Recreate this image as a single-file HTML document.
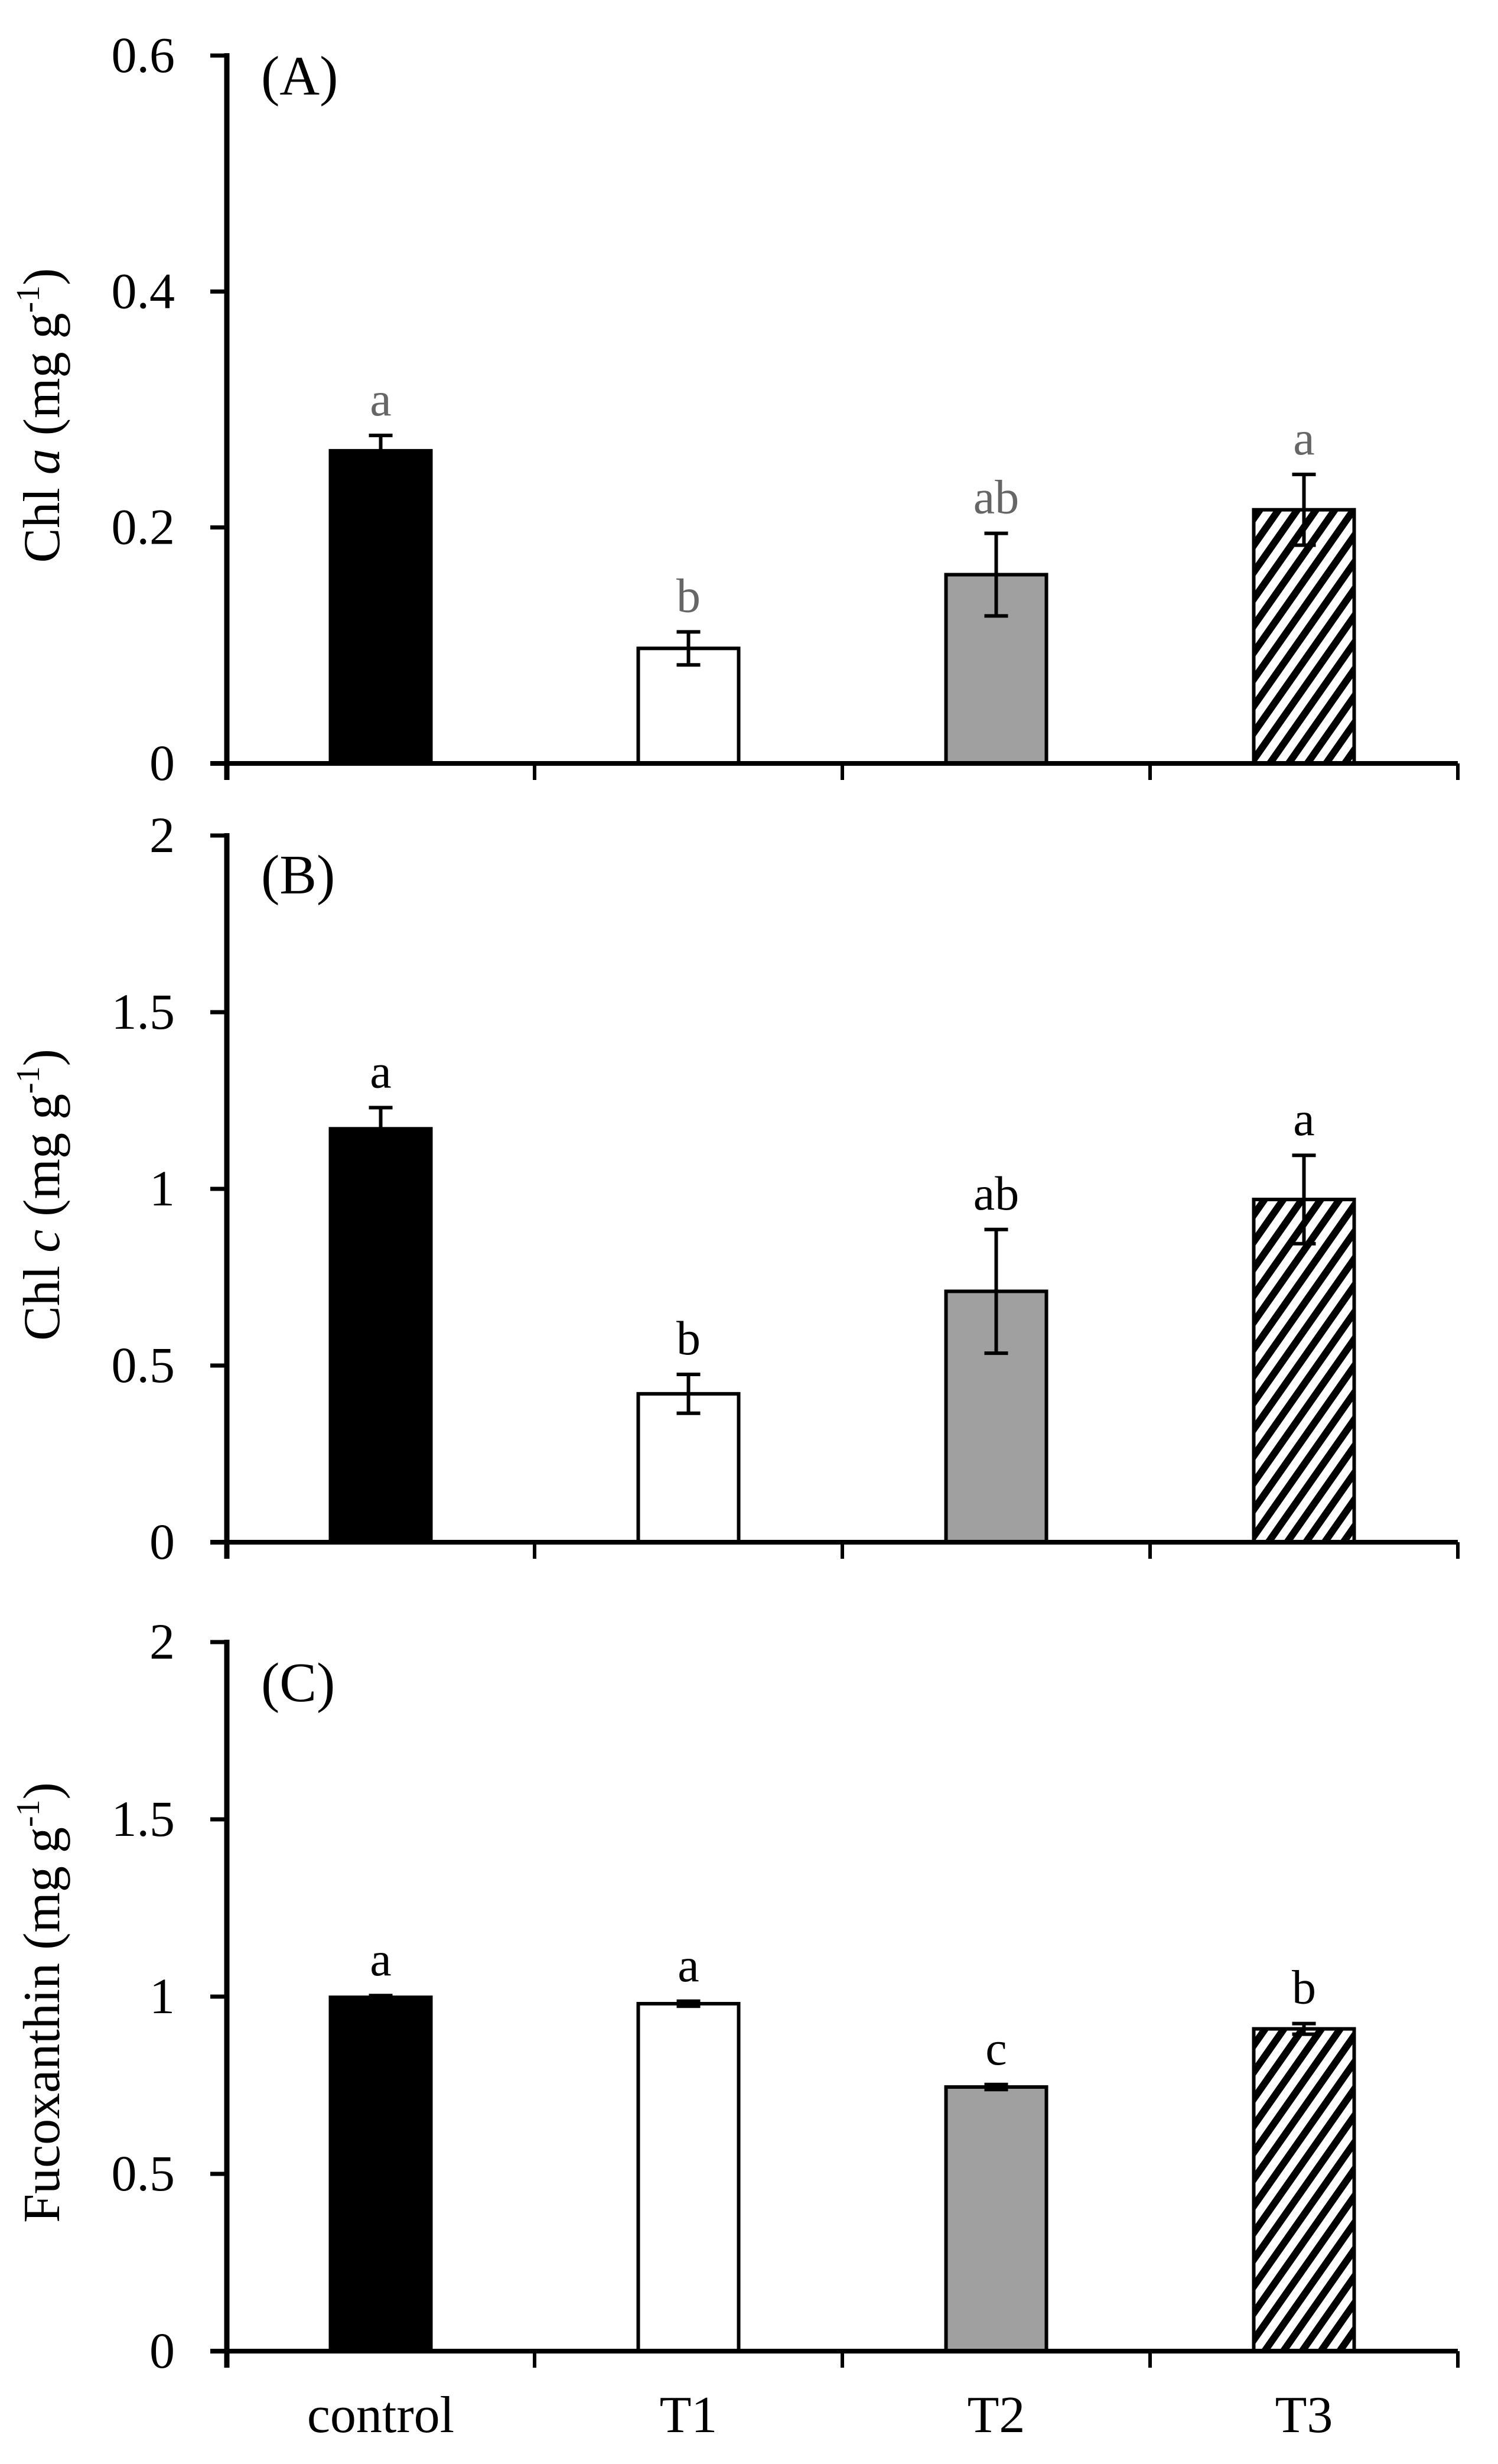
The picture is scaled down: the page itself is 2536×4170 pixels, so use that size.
<!DOCTYPE html>
<html><head><meta charset="utf-8"><style>
html,body{margin:0;padding:0;background:#fff}
svg{display:block}
text{font-family:"Liberation Serif",serif}
</style></head><body>
<svg id="chart" width="2536" height="4170" viewBox="0 0 2536 4170" xmlns="http://www.w3.org/2000/svg">
<defs>
<pattern id="hatch" patternUnits="userSpaceOnUse" width="26" height="26" patternTransform="rotate(35)">
<rect x="0" y="0" width="26" height="26" fill="#fff"/>
<rect x="0" y="0" width="12" height="26" fill="#000"/>
</pattern>
</defs>
</svg>
<script>
const categories = ["control","T1","T2","T3"];
const valuesA = [0.265,0.0975,0.160,0.215];
const errorsA = [0.013,0.014,0.035,0.030];
const lettersA = ["a","b","ab","a"];
const ticksA = [0,0.2,0.4,0.6];
const tickLabelsA = ["0","0.2","0.4","0.6"];
const valuesB = [1.17,0.42,0.71,0.97];
const errorsB = [0.06,0.055,0.175,0.125];
const lettersB = ["a","b","ab","a"];
const ticksB = [0,0.5,1,1.5,2];
const tickLabelsB = ["0","0.5","1","1.5","2"];
const valuesC = [0.998,0.98,0.745,0.909];
const errorsC = [0.005,0.007,0.007,0.015];
const lettersC = ["a","a","c","b"];
const ticksC = [0,0.5,1,1.5,2];
const tickLabelsC = ["0","0.5","1","1.5","2"];

const NS="http://www.w3.org/2000/svg";
const svg=document.getElementById('chart');
const X0=384, X1=2468;
const fills=["#000","#fff","#a0a0a0","url(#hatch)"];
function mk(tag,attrs,parent){const e=document.createElementNS(NS,tag);for(const k in attrs)e.setAttribute(k,attrs[k]);(parent||svg).appendChild(e);return e;}
function xBand(i){const w=(X1-X0)/categories.length;return X0+w*i+w/2;}

function panel(key,label,yTop,yZero,maxV,vals,errs,letters,ticks,tickLabels,letterColor,titleParts,showX,labelOff){
  const g=mk('g',{});
  
  
  const y=v=>yZero-(v/maxV)*(yZero-yTop);
  vals.forEach((v,i)=>{
    const cx=xBand(i), bw=170;
    const r=mk('rect',{x:cx-bw/2,y:y(v),width:bw,height:yZero-y(v),fill:fills[i],stroke:'#000','stroke-width':6},g);
    
    
    const e=errs[i];
    const eb=mk('path',{d:`M${cx},${y(v+e)}V${y(v-e)}M${cx-20},${y(v+e)}H${cx+20}M${cx-20},${y(v-e)}H${cx+20}`,stroke:'#000','stroke-width':6,fill:'none'},g);
    
    
    const t=mk('text',{x:cx,y:y(v+e)-34,'font-size':82,'text-anchor':'middle',fill:letterColor},g);
    t.textContent=letters[i];
    
    
  });
  const ya=mk('line',{x1:X0,y1:yTop-4,x2:X0,y2:yZero+28,stroke:'#000','stroke-width':9},g);
  
  
  const xa=mk('line',{x1:X0-28,y1:yZero,x2:X1,y2:yZero,stroke:'#000','stroke-width':8},g);
  
  
  for(let i=0;i<=categories.length;i++){
    const xt=X0+(X1-X0)/categories.length*i;
    mk('line',{x1:xt,y1:yZero,x2:xt,y2:yZero+28,stroke:'#000','stroke-width':6},g);
  }
  ticks.forEach((tv,i)=>{
    mk('line',{x1:X0-28,y1:y(tv),x2:X0,y2:y(tv),stroke:'#000','stroke-width':7},g);
    const t=mk('text',{x:296,y:y(tv)+28,'font-size':86,'text-anchor':'end'},g);
    t.textContent=tickLabels[i];
    
    
  });
  const pl=mk('text',{x:442,y:yTop+labelOff,'font-size':94},g);
  pl.textContent=label;
  
  
  const cy=(yTop+yZero)/2+10;
  const tt=mk('text',{x:0,y:0,'font-size':88,'text-anchor':'middle',transform:`translate(100,${cy}) rotate(-90)`},g);
  
  
  titleParts.forEach(p=>{
    const s=mk('tspan',p.attrs||{},tt);s.textContent=p.t;
  });
  if(showX){
    categories.forEach((c,i)=>{
      const t=mk('text',{x:xBand(i),y:4116,'font-size':88,'text-anchor':'middle'},g);
      t.textContent=c;
      
      
    });
  }
}
panel('a','(A)',94,1292,0.6,valuesA,errorsA,lettersA,ticksA,tickLabelsA,'#666',
  [{t:'Chl '},{t:'a',attrs:{'font-style':'italic'}},{t:' (mg g'},{t:'-1',attrs:{dy:-34,'font-size':56}},{t:')',attrs:{dy:34}}],false,66);
panel('b','(B)',1414,2610,2,valuesB,errorsB,lettersB,ticksB,tickLabelsB,'#000',
  [{t:'Chl '},{t:'c',attrs:{'font-style':'italic'}},{t:' (mg g'},{t:'-1',attrs:{dy:-34,'font-size':56}},{t:')',attrs:{dy:34}}],false,98);
panel('c','(C)',2779,3979,2,valuesC,errorsC,lettersC,ticksC,tickLabelsC,'#000',
  [{t:'Fucoxanthin (mg g'},{t:'-1',attrs:{dy:-34,'font-size':56}},{t:')',attrs:{dy:34}}],true,100);
</script>
</body></html>
